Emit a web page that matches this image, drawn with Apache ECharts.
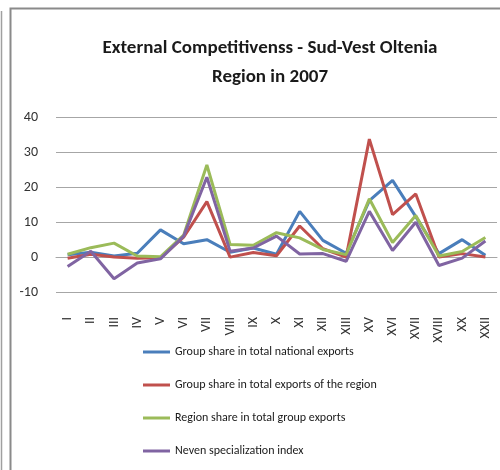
<!DOCTYPE html>
<html>
<head>
<meta charset="utf-8">
<script src="https://cdn.jsdelivr.net/npm/echarts@6/dist/echarts.min.js"></script>
<style>
  html, body { margin: 0; padding: 0; background: #fff; }
  #chart { width: 500px; height: 470px; }
</style>
</head>
<body>
<div id="chart"></div>
<script>
// groups (roman numerals as in the source table)
const categories = ['I','II','III','IV','V','VI','VII','VIII','IX','X','XI','XII','XIII','XV','XVI','XVII','XVIII','XX','XXII'];

const nationalShare = [0.7, 1.4, 0.3, 1.1, 7.8, 3.8, 5.0, 1.4, 2.6, 0.8, 13.1, 4.8, 1.1, 16.2, 22.0, 11.6, 1.0, 5.0, 0.5];
const regionExportsShare = [-0.3, 0.8, 0.0, -0.3, -0.2, 5.7, 15.9, 0.0, 1.3, 0.4, 8.9, 2.4, 0.0, 33.8, 12.2, 18.1, 0.0, 1.0, 0.0];
const regionGroupShare = [0.8, 2.7, 4.0, 0.3, 0.1, 6.3, 26.4, 3.6, 3.4, 7.0, 5.5, 2.2, 0.7, 16.7, 4.2, 11.9, 0.3, 1.6, 5.6];
const nevenIndex = [-2.7, 1.7, -6.2, -1.7, -0.5, 6.0, 22.9, 1.7, 2.6, 6.0, 0.9, 1.0, -1.2, 13.1, 1.9, 10.0, -2.4, -0.3, 4.6];

const seriesNames = [
    'Group share in total national exports',
    'Group share in total exports of the region',
    'Region share in total group exports',
    'Neven specialization index'
];
const seriesColors = ['#4a7ebb', '#c0504d', '#9bbb59', '#8064a2'];

const fontFamily = 'Carlito, Lato, sans-serif';

const chart = echarts.init(document.getElementById('chart'));

function lineSeries(name, data, color) {
    return {
        name: name,
        type: 'line',
        data: data,
        symbol: 'none',
        showSymbol: false,
        lineStyle: {width: 3, color: color},
        itemStyle: {color: color},
        animation: false
    };
}

chart.setOption({
    animation: false,
    backgroundColor: '#ffffff',
    title: {
        text: 'External Competitivenss - Sud-Vest Oltenia\nRegion in 2007',
        left: 265,
        top: 29,
        textAlign: 'center',
        textStyle: {
            fontFamily: fontFamily,
            fontSize: 19,
            fontWeight: 'bold',
            color: '#1a1a1a',
            lineHeight: 29
        }
    },
    grid: {
        left: 56,
        right: 3,
        top: 117.5,
        bottom: 178,
        containLabel: false,
        outerBoundsMode: 'none'
    },
    legend: {
        orient: 'vertical',
        left: 138,
        top: 340,
        itemGap: 19,
        itemWidth: 27,
        itemHeight: 3,
        icon: 'rect',
        data: seriesNames,
        textStyle: {
            fontFamily: fontFamily,
            fontSize: 12,
            color: '#1a1a1a',
            lineHeight: 14
        }
    },
    xAxis: {
        type: 'category',
        data: categories,
        boundaryGap: true,
        axisLine: {show: true, onZero: true, lineStyle: {color: '#a6a6a6', width: 1}},
        axisTick: {show: false},
        axisLabel: {
            rotate: 90,
            margin: 25,
            interval: 0,
            fontFamily: fontFamily,
            fontSize: 14,
            color: '#333333'
        },
        splitLine: {show: false}
    },
    yAxis: {
        type: 'value',
        min: -10,
        max: 40,
        interval: 10,
        axisLine: {show: false},
        axisTick: {show: false},
        axisLabel: {
            margin: 18,
            fontFamily: fontFamily,
            fontSize: 14,
            color: '#333333'
        },
        splitLine: {lineStyle: {color: '#a6a6a6', width: 1}}
    },
    graphic: [
        {
            type: 'polyline',
            shape: {points: [[10.5, 470], [10.5, 8.5], [500, 8.5]]},
            style: {stroke: '#8a8a8a', lineWidth: 2, fill: null},
            silent: true
        },
        {
            type: 'line',
            shape: {x1: 1.5, y1: 11, x2: 1.5, y2: 470},
            style: {stroke: '#a0a0a0', lineWidth: 1.5},
            silent: true
        }
    ],
    series: [
        lineSeries(seriesNames[0], nationalShare, seriesColors[0]),
        lineSeries(seriesNames[1], regionExportsShare, seriesColors[1]),
        lineSeries(seriesNames[2], regionGroupShare, seriesColors[2]),
        lineSeries(seriesNames[3], nevenIndex, seriesColors[3])
    ]
});
</script>
</body>
</html>
